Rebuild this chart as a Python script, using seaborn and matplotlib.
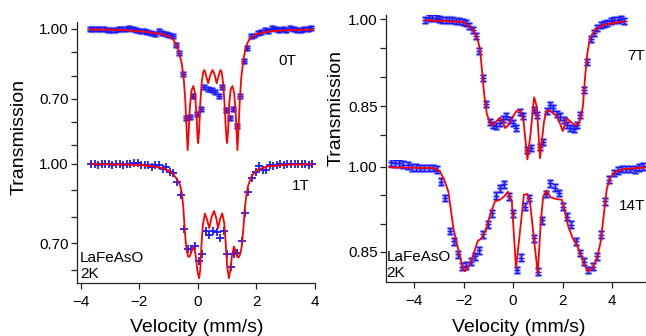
import matplotlib
matplotlib.use("Agg")
import matplotlib.pyplot as plt
import seaborn as sns
import pandas as pd

# ---------------- measured spectra (velocity in mm/s, relative transmission) ----------------
vel_0T = [-3.70, -3.58, -3.45, -3.33, -3.21, -3.08, -2.96, -2.84, -2.71, -2.59, -2.47, -2.34,
          -2.22, -2.10, -1.97, -1.85, -1.73, -1.60, -1.46, -1.34, -1.22, -1.10, -0.98, -0.86,
          -0.75, -0.64, -0.52, -0.39, -0.27, -0.16, -0.03, 0.09, 0.22, 0.35, 0.47, 0.59,
          0.71, 0.83, 0.96, 1.08, 1.20, 1.32, 1.44, 1.56, 1.68, 1.80, 1.92, 2.05, 2.17,
          2.29, 2.41, 2.53, 2.66, 2.78, 2.90, 3.02, 3.15, 3.27, 3.39, 3.51, 3.64, 3.76, 3.88]
tr_0T = [0.998, 1.001, 0.999, 1.002, 0.998, 0.996, 0.997, 0.995, 0.998, 0.999, 1.001, 1.003,
         0.999, 0.996, 0.993, 0.990, 0.986, 0.984, 0.980, 0.993, 0.983, 0.977, 0.974, 0.968,
         0.930, 0.896, 0.808, 0.617, 0.624, 0.712, 0.636, 0.655, 0.752, 0.741, 0.738, 0.731,
         0.712, 0.752, 0.652, 0.617, 0.655, 0.584, 0.712, 0.864, 0.917, 0.968, 0.972, 0.982,
         0.986, 0.994, 0.990, 1.004, 0.998, 0.995, 0.999, 0.997, 1.003, 1.000, 0.996, 0.997,
         1.001, 0.999, 1.003]
err_0T = 0.0085

fitv_0T = [-3.70, -3.00, -2.50, -2.00, -1.50, -1.20, -1.00, -0.85, -0.75, -0.65, -0.55, -0.48,
           -0.43, -0.39, -0.35, -0.31, -0.27, -0.22, -0.16, -0.10, -0.05, -0.01, 0.01, 0.04,
           0.08, 0.13, 0.18, 0.22, 0.27, 0.35, 0.43, 0.50, 0.57, 0.64, 0.72, 0.77, 0.81, 0.86,
           0.91, 0.95, 0.98, 1.00, 1.03, 1.07, 1.12, 1.18, 1.24, 1.29, 1.32, 1.35, 1.39, 1.43,
           1.48, 1.55, 1.62, 1.70, 1.80, 2.00, 2.30, 2.80, 3.40, 3.90]
fit_0T = [0.998, 0.997, 0.995, 0.990, 0.984, 0.977, 0.969, 0.955, 0.936, 0.905, 0.850, 0.780,
          0.690, 0.580, 0.480, 0.570, 0.670, 0.735, 0.755, 0.725, 0.630, 0.530, 0.510, 0.560,
          0.680, 0.770, 0.815, 0.824, 0.805, 0.767, 0.805, 0.824, 0.805, 0.767, 0.805, 0.824,
          0.815, 0.770, 0.680, 0.580, 0.525, 0.510, 0.560, 0.680, 0.740, 0.755, 0.725, 0.640,
          0.560, 0.480, 0.580, 0.690, 0.790, 0.865, 0.912, 0.942, 0.962, 0.978, 0.987, 0.993,
          0.996, 0.997]

vel_1T = [-3.65, -3.53, -3.41, -3.28, -3.16, -3.04, -2.92, -2.80, -2.67, -2.55, -2.43, -2.31,
          -2.19, -2.06, -1.94, -1.82, -1.70, -1.58, -1.47, -1.33, -1.20, -1.09, -0.96, -0.84,
          -0.73, -0.59, -0.47, -0.33, -0.22, -0.10, 0.03, 0.15, 0.27, 0.39, 0.52, 0.64, 0.75,
          0.89, 1.00, 1.12, 1.23, 1.34, 1.49, 1.60, 1.72, 1.85, 1.98, 2.09, 2.23, 2.34, 2.46,
          2.58, 2.70, 2.82, 2.94, 3.06, 3.18, 3.30, 3.42, 3.54, 3.66, 3.78, 3.90]
tr_1T = [0.999, 1.000, 0.998, 1.001, 0.999, 1.000, 0.998, 1.000, 0.999, 0.998, 1.000, 0.999,
         1.004, 1.003, 0.997, 0.998, 0.996, 0.990, 0.996, 0.996, 0.980, 0.987, 0.971, 0.965,
         0.933, 0.883, 0.754, 0.677, 0.677, 0.689, 0.633, 0.659, 0.746, 0.731, 0.746, 0.741,
         0.718, 0.746, 0.658, 0.611, 0.658, 0.664, 0.710, 0.816, 0.895, 0.948, 0.971, 0.992,
         0.977, 0.977, 0.996, 0.994, 0.998, 1.001, 0.998, 1.000, 0.999, 1.001, 0.999, 1.000,
         1.001, 0.998, 0.999]

fitv_1T = [-3.65, -2.50, -2.00, -1.50, -1.20, -1.00, -0.85, -0.72, -0.61, -0.55, -0.50, -0.46,
           -0.42, -0.38, -0.33, -0.28, -0.22, -0.16, -0.11, -0.06, -0.01, 0.04, 0.08, 0.12,
           0.17, 0.24, 0.31, 0.39, 0.47, 0.55, 0.62, 0.69, 0.76, 0.83, 0.90, 0.95, 1.00, 1.06,
           1.11, 1.16, 1.23, 1.29, 1.34, 1.39, 1.45, 1.50, 1.55, 1.60, 1.66, 1.72, 1.84, 2.00,
           2.34, 3.00, 3.90]
fit_1T = [0.999, 0.998, 0.996, 0.991, 0.984, 0.975, 0.962, 0.943, 0.920, 0.890, 0.838, 0.770,
          0.710, 0.670, 0.648, 0.650, 0.668, 0.685, 0.675, 0.640, 0.590, 0.567, 0.600, 0.690,
          0.770, 0.812, 0.790, 0.757, 0.800, 0.822, 0.798, 0.757, 0.792, 0.813, 0.775, 0.700,
          0.610, 0.567, 0.600, 0.650, 0.687, 0.670, 0.650, 0.645, 0.660, 0.690, 0.750, 0.830,
          0.885, 0.920, 0.955, 0.975, 0.990, 0.997, 0.999]

vel_7T = [-3.54, -3.40, -3.26, -3.13, -2.99, -2.86, -2.72, -2.58, -2.45, -2.31, -2.18, -2.04,
          -1.90, -1.77, -1.63, -1.50, -1.36, -1.22, -1.09, -0.95, -0.82, -0.68, -0.54, -0.41,
          -0.27, -0.14, 0.00, 0.14, 0.27, 0.42, 0.58, 0.72, 0.85, 0.96, 1.09, 1.23, 1.36,
          1.50, 1.63, 1.77, 1.90, 2.04, 2.18, 2.31, 2.45, 2.58, 2.72, 2.86, 2.99, 3.13, 3.26,
          3.40, 3.54, 3.67, 3.81, 3.94, 4.08, 4.22, 4.35, 4.49]
tr_7T = [0.998, 1.001, 1.002, 1.001, 1.000, 0.999, 0.999, 0.998, 0.998, 0.997, 0.997, 0.995,
         0.993, 0.988, 0.981, 0.970, 0.945, 0.898, 0.853, 0.823, 0.817, 0.816, 0.821, 0.827,
         0.833, 0.826, 0.820, 0.812, 0.840, 0.833, 0.774, 0.777, 0.843, 0.834, 0.780, 0.788,
         0.842, 0.852, 0.846, 0.836, 0.832, 0.826, 0.817, 0.813, 0.810, 0.817, 0.834, 0.878,
         0.926, 0.965, 0.976, 0.984, 0.990, 0.992, 0.994, 0.996, 0.998, 0.999, 1.000, 0.997]
err_7T = 0.0052

fitv_7T = [-3.56, -2.00, -1.60, -1.44, -1.33, -1.26, -1.17, -1.06, -0.93, -0.83, -0.69, -0.53,
           -0.42, -0.32, -0.19, 0.01, 0.15, 0.28, 0.42, 0.58, 0.71, 0.85, 0.96, 1.09, 1.25,
           1.33, 1.47, 1.60, 1.76, 1.87, 2.01, 2.17, 2.33, 2.50, 2.64, 2.73, 2.82, 2.91, 3.00,
           3.11, 3.31, 3.65, 4.32, 4.53]
fit_7T = [0.998, 0.995, 0.981, 0.967, 0.947, 0.915, 0.872, 0.837, 0.820, 0.817, 0.823, 0.830,
          0.823, 0.812, 0.817, 0.833, 0.842, 0.843, 0.826, 0.758, 0.803, 0.865, 0.849, 0.760,
          0.823, 0.840, 0.843, 0.838, 0.833, 0.823, 0.807, 0.829, 0.823, 0.817, 0.819, 0.829,
          0.849, 0.900, 0.941, 0.967, 0.981, 0.990, 0.995, 0.996]

vel_14T = [-4.94, -4.77, -4.60, -4.43, -4.26, -4.09, -3.92, -3.75, -3.58, -3.41, -3.24, -3.07,
           -2.90, -2.73, -2.56, -2.39, -2.22, -2.05, -1.88, -1.71, -1.54, -1.37, -1.20, -1.03,
           -0.86, -0.69, -0.52, -0.35, -0.18, -0.02, 0.15, 0.32, 0.49, 0.66, 0.83, 1.00, 1.17,
           1.34, 1.51, 1.68, 1.85, 2.02, 2.19, 2.36, 2.53, 2.70, 2.87, 3.04, 3.21, 3.38, 3.55,
           3.72, 3.89, 4.06, 4.23, 4.40, 4.57, 4.74, 4.91, 5.08, 5.25]
tr_14T = [1.008, 1.006, 1.006, 1.004, 1.003, 0.999, 0.999, 0.998, 0.998, 0.998, 0.998, 0.995,
          0.974, 0.945, 0.887, 0.869, 0.846, 0.824, 0.826, 0.833, 0.842, 0.853, 0.881, 0.899,
          0.918, 0.949, 0.962, 0.969, 0.948, 0.918, 0.818, 0.840, 0.930, 0.945, 0.874, 0.815,
          0.906, 0.952, 0.971, 0.963, 0.954, 0.930, 0.912, 0.898, 0.869, 0.848, 0.833, 0.818,
          0.824, 0.842, 0.880, 0.939, 0.977, 0.989, 0.993, 0.996, 0.996, 0.996, 0.995, 0.999,
          1.001]
err_14T = 0.006

fitv_14T = [-5.00, -3.22, -2.95, -2.75, -2.61, -2.52, -2.41, -2.27, -2.14, -2.03, -1.94, -1.80,
            -1.60, -1.43, -1.27, -1.09, -0.93, -0.73, -0.53, -0.35, -0.21, -0.05, 0.12, 0.31,
            0.44, 0.58, 0.69, 0.85, 1.00, 1.12, 1.22, 1.36, 1.52, 1.77, 1.97, 2.10, 2.23, 2.41,
            2.57, 2.71, 2.87, 3.04, 3.20, 3.38, 3.54, 3.68, 3.79, 3.92, 4.12, 4.46, 5.37]
fit_14T = [0.999, 0.998, 0.992, 0.974, 0.956, 0.927, 0.892, 0.865, 0.842, 0.822, 0.816, 0.824,
           0.845, 0.869, 0.874, 0.890, 0.915, 0.939, 0.942, 0.948, 0.956, 0.940, 0.821, 0.898,
           0.951, 0.952, 0.936, 0.871, 0.812, 0.903, 0.948, 0.958, 0.946, 0.943, 0.942, 0.921,
           0.895, 0.874, 0.863, 0.848, 0.827, 0.816, 0.821, 0.837, 0.868, 0.921, 0.962, 0.980,
           0.991, 0.996, 0.999]

# ---------------- style ----------------
sns.set_style("ticks")
plt.rcParams["font.family"] = ["Liberation Sans", "DejaVu Sans"]
plt.rcParams["axes.linewidth"] = 0.9

W, H = 646, 336
fig = plt.figure(figsize=(W / 100, H / 100), dpi=100)


def box(x0, y0, x1, y1):
    """Axes rectangle from pixel edges (top-left origin)."""
    return [x0 / W, 1 - y1 / H, (x1 - x0) / W, (y1 - y0) / H]


ax_0T = fig.add_axes(box(77, 22, 315, 155))
ax_1T = fig.add_axes(box(77, 155, 315, 283))
ax_7T = fig.add_axes(box(386, 15, 646, 160))
ax_14T = fig.add_axes(box(386, 160, 646, 282))

POINT = "#1a1aff"
HALO = "#a8a8ff"
FIT = "#ff0000"


def draw_points(ax, v, t, err):
    if err:
        ax.errorbar(v, t, yerr=err, fmt="none", ecolor=HALO, elinewidth=2.6,
                    capsize=2.4, capthick=2.4, zorder=2)
        ax.errorbar(v, t, yerr=err, fmt="+", color=POINT, ecolor=POINT, ms=5, mew=1.0,
                    elinewidth=1.0, capsize=2.2, capthick=1.0, zorder=3)
    else:
        ax.plot(v, t, "+", color=POINT, ms=6, mew=1.3, zorder=3, linestyle="none")


def draw_fit(ax, v, t):
    df = pd.DataFrame({"v": v, "t": t})
    sns.lineplot(data=df, x="v", y="t", ax=ax, color=FIT, lw=1.3, estimator=None,
                 sort=False, zorder=4, clip_on=False)


for ax, v, t, e, fv, ft in [
    (ax_0T, vel_0T, tr_0T, err_0T, fitv_0T, fit_0T),
    (ax_1T, vel_1T, tr_1T, None, fitv_1T, fit_1T),
    (ax_7T, vel_7T, tr_7T, err_7T, fitv_7T, fit_7T),
    (ax_14T, vel_14T, tr_14T, err_14T, fitv_14T, fit_14T),
]:
    draw_points(ax, v, t, e)
    draw_fit(ax, fv, ft)
    ax.set_xlabel("")
    ax.set_ylabel("")
    ax.patch.set_alpha(0)

# axis ranges
ax_0T.set_xlim(-4.13, 4.0)
ax_1T.set_xlim(-4.13, 4.0)
ax_0T.set_ylim(0.459, 1.030)
ax_1T.set_ylim(0.549, 1.034)
ax_7T.set_xlim(-5.13, 5.37)
ax_14T.set_xlim(-5.13, 5.37)
ax_7T.set_ylim(0.757, 1.007)
ax_14T.set_ylim(0.797, 1.012)

# y ticks
ax_0T.set_yticks([1.0, 0.9, 0.8, 0.7, 0.6, 0.5], ["1.00", "", "", "0.70", "", ""])
ax_1T.set_yticks([1.0, 0.9, 0.8, 0.7, 0.6], ["1.00", "", "", "0.70", ""])
ax_7T.set_yticks([1.0, 0.95, 0.9, 0.85, 0.8], ["1.00", "", "", "0.85", ""])
ax_14T.set_yticks([1.0, 0.95, 0.9, 0.85], ["1.00", "", "", "0.85"])

for ax in (ax_1T, ax_14T):
    ax.set_xticks([-4, -2, 0, 2, 4])

for ax in (ax_0T, ax_7T):
    for s in ("top", "right", "bottom"):
        ax.spines[s].set_visible(False)
    ax.tick_params(axis="x", bottom=False, labelbottom=False)
for ax in (ax_1T, ax_14T):
    for s in ("top", "right"):
        ax.spines[s].set_visible(False)

for ax in (ax_0T, ax_1T, ax_7T, ax_14T):
    for s in ("left", "bottom"):
        ax.spines[s].set_color("#222222")
    ax.tick_params(axis="y", direction="out", length=4.5, width=0.9, pad=1.5,
                   labelsize=11, colors="#222222", labelcolor="black")
    ax.tick_params(axis="x", direction="out", length=4.5, width=0.9, pad=4,
                   labelsize=11, colors="#222222", labelcolor="black")

# field / sample annotations
TXT = dict(fontsize=11, color="black", ha="left", va="baseline")
ax_0T.text(0.845, 0.677, "0T", transform=ax_0T.transAxes, **TXT)
ax_1T.text(0.903, 0.727, "1T", transform=ax_1T.transAxes, **TXT)
ax_7T.text(0.927, 0.690, "7T", transform=ax_7T.transAxes, **TXT)
ax_14T.text(0.896, 0.590, "14T", transform=ax_14T.transAxes, **TXT)
ax_1T.text(0.012, 0.164, "LaFeAsO", transform=ax_1T.transAxes, **TXT)
ax_1T.text(0.012, 0.039, "2K", transform=ax_1T.transAxes, **TXT)
ax_14T.text(0.002, 0.176, "LaFeAsO", transform=ax_14T.transAxes, **TXT)
ax_14T.text(0.002, 0.041, "2K", transform=ax_14T.transAxes, **TXT)

# axis titles
LBL = dict(fontsize=14, color="black", ha="center", va="center")
fig.text(19 / W, 1 - 137 / H, "Transmission", rotation=90, **LBL)
fig.text(336 / W, 1 - 108 / H, "Transmission", rotation=90, **LBL)
fig.text(197 / W, 1 - 327 / H, "Velocity (mm/s)", **LBL)
fig.text(519 / W, 1 - 327 / H, "Velocity (mm/s)", **LBL)

fig.savefig("out.png", dpi=100)
